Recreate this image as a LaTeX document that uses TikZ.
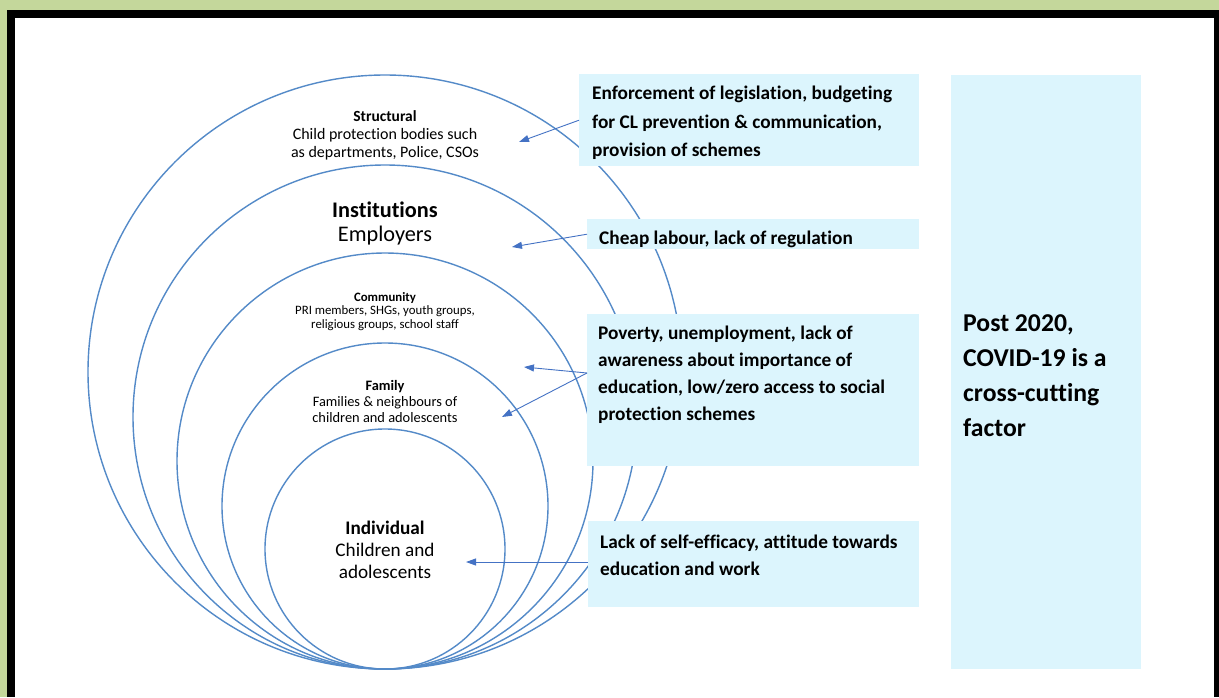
\documentclass[tikz,border=0pt]{standalone}
\usepackage{fontspec}
\setmainfont{Carlito}[Ligatures=NoCommon]
\usetikzlibrary{arrows.meta,calc}
\definecolor{bggreen}{RGB}{196,215,155}
\definecolor{boxfill}{RGB}{220,245,253}
\definecolor{ringblue}{RGB}{84,138,200}
\definecolor{arrowblue}{RGB}{68,114,196}
\begin{document}
\begin{tikzpicture}[x=1pt,y=-1pt,
  ring/.style={draw=ringblue,line width=1.4pt},
  factbox/.style={fill=boxfill,draw=none,inner sep=0pt,anchor=north west},
  facttext/.style={anchor=north west,inner sep=0pt,align=left,font=\bfseries\fontsize{19.3}{27}\selectfont},
  lbl/.style={inner sep=0pt,align=center},
  arr/.style={draw=arrowblue,line width=0.9pt,-{Triangle[length=10pt,width=7pt]}}]
\useasboundingbox (0,0) rectangle (1219,697);
\fill[bggreen] (0,0) rectangle (1219,697);
\fill[black] (7,10) rectangle (1219,697);
\fill[white] (15,18) rectangle (1214,697);
% rings
\draw[ring] (385,372) circle[radius=297pt];
\draw[ring] (385,417) circle[radius=252pt];
\draw[ring] (385,461) circle[radius=208pt];
\draw[ring] (385,506) circle[radius=163pt];
\draw[ring] (385,549) circle[radius=120pt];
% ring labels
\node[lbl,font=\fontsize{16}{18}\selectfont] (structural) at (385,135)
  {{\bfseries\fontsize{15.5}{18}\selectfont Structural}\\Child protection bodies such\\as departments, Police, CSOs};
\node[lbl,font=\fontsize{22.3}{24}\selectfont] (institutions) at (385,223.5)
  {\bfseries Institutions\\Employers};
\node[lbl,font=\fontsize{12.8}{13.5}\selectfont] (community) at (385,311.5)
  {{\bfseries Community}\\PRI members, SHGs, youth groups,\\religious groups, school staff};
\node[lbl,font=\fontsize{14.4}{16}\selectfont] (family) at (385,401)
  {{\bfseries Family}\\Families \& neighbours of\\children and adolescents};
\node[lbl,font=\fontsize{19.2}{22}\selectfont] (individual) at (385,550)
  {{\bfseries Individual}\\Children and\\adolescents};
% boxes
\node[factbox,minimum width=340pt,minimum height=92pt] (b1) at (579,74) {};
\node[factbox,minimum width=332pt,minimum height=30pt] (b2) at (587,219) {};
\node[factbox,minimum width=332pt,minimum height=152pt] (b3) at (587,314) {};
\node[factbox,minimum width=331pt,minimum height=86pt] (b4) at (588,521) {};
\node[factbox,minimum width=190pt,minimum height=594pt] (b5) at (951,75) {};
\node[facttext,font=\bfseries\fontsize{19.3}{28.5}\selectfont] (t1) at (592,86) {Enforcement of legislation, budgeting\\for CL prevention \& communication,\\provision of schemes};
\node[facttext] (t2) at (599,231) {Cheap labour, lack of regulation};
\node[facttext] (t3) at (598,326) {Poverty, unemployment, lack of\\awareness about importance of\\education, low/zero access to social\\protection schemes};
\node[facttext,font=\bfseries\fontsize{19.3}{26.5}\selectfont] (t4) at (600,535) {Lack of self-efficacy, attitude towards\\education and work};
\node[anchor=north west,inner sep=0pt,align=left,font=\bfseries\fontsize{25.7}{35}\selectfont] (t5) at (963,314)
  {Post 2020,\\COVID-19 is a\\cross-cutting\\factor};
% arrows
\coordinate (p1) at (519,142);
\coordinate (p2) at (512,247);
\coordinate (s3) at ($(b3.north west)+(0,59)$);
\coordinate (p3a) at (524,367);
\coordinate (p3b) at (502,417);
\coordinate (s4) at ($(b4.north west)+(0,41)$);
\coordinate (p4) at (466,562);
\draw[arr] (b1.west) -- (p1);
\draw[arr] (b2.west) -- (p2);
\draw[arr] (s3) -- (p3a);
\draw[arr] (s3) -- (p3b);
\draw[arr] (s4) -- (p4);
\end{tikzpicture}
\end{document}
